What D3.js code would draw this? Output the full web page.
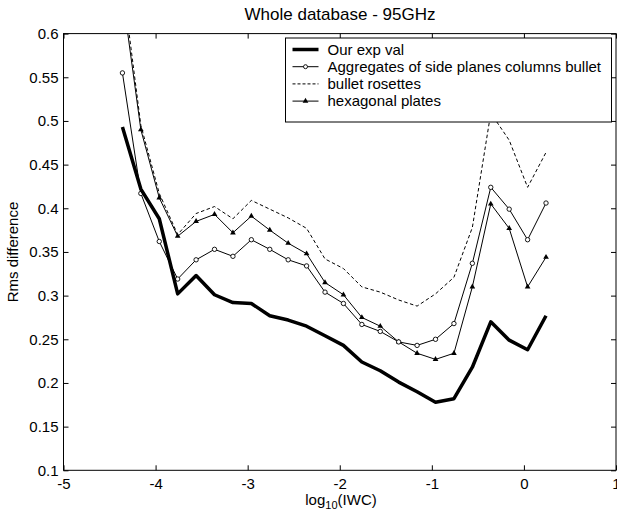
<!DOCTYPE html>
<html><head><meta charset="utf-8">
<script src="https://cdn.jsdelivr.net/npm/d3@7"></script>
<style>body{margin:0;background:#fff}svg{display:block}text{font-family:"Liberation Sans",Arial,sans-serif;fill:#000}</style>
</head><body><svg id="c" width="617" height="515"></svg>
<script>
const logIWC = [-4.36,-4.16,-3.96,-3.76,-3.56,-3.36,-3.16,-2.96,-2.76,-2.56,-2.36,-2.16,-1.96,-1.76,-1.56,-1.36,-1.16,-0.96,-0.76,-0.56,-0.36,-0.16,0.04,0.24];
const ourExpVal = [0.493,0.422,0.388,0.302,0.323,0.301,0.292,0.291,0.277,0.272,0.265,0.254,0.243,0.224,0.214,0.201,0.190,0.178,0.182,0.218,0.270,0.249,0.238,0.277];
const aggregates = [0.555,0.417,0.362,0.319,0.341,0.353,0.345,0.364,0.353,0.341,0.334,0.304,0.291,0.267,0.259,0.247,0.243,0.250,0.268,0.337,0.424,0.399,0.364,0.406];
const bulletRosettes = [0.660,0.495,0.417,0.370,0.394,0.402,0.388,0.409,0.399,0.389,0.377,0.342,0.331,0.310,0.304,0.295,0.288,0.302,0.321,0.378,0.509,0.478,0.424,0.464];
const hexPlates = [0.645,0.490,0.412,0.368,0.385,0.393,0.372,0.391,0.375,0.360,0.348,0.315,0.301,0.275,0.265,0.247,0.234,0.227,0.234,0.310,0.405,0.377,0.310,0.344];
const xTicks = [-5,-4,-3,-2,-1,0,1];
const yTicks = [0.1,0.15,0.2,0.25,0.3,0.35,0.4,0.45,0.5,0.55,0.6];
const seriesNames = ["Our exp val","Aggregates of side planes columns bullet","bullet rosettes","hexagonal plates"];
const titleText = "Whole database - 95GHz";

const svg = d3.select("#c");
const x = d3.scaleLinear().domain([-5,1]).range([63.5,616]);
const y = d3.scaleLinear().domain([0.1,0.6]).range([470.3,33.6]);
const [x0,x1] = x.range(), [yb,yt] = y.range();

svg.append("defs").append("clipPath").attr("id","clip")
  .append("rect").attr("x",x0).attr("y",yt).attr("width",x1-x0).attr("height",yb-yt);

svg.append("rect").attr("x",x0).attr("y",yt).attr("width",x1-x0).attr("height",yb-yt)
  .attr("fill","none").attr("stroke","#000").attr("stroke-width",1);

const tl = 5;
const gx = svg.append("g").attr("transform",`translate(0,${yb})`)
  .call(d3.axisBottom(x).tickValues(xTicks).tickSize(-tl).tickPadding(8).tickFormat(d=>String(d)));
const gxt = svg.append("g").attr("transform",`translate(0,${yt})`)
  .call(d3.axisTop(x).tickValues(xTicks).tickSize(-tl).tickFormat(""));
const gy = svg.append("g").attr("transform",`translate(${x0},0)`)
  .call(d3.axisLeft(y).tickValues(yTicks).tickSize(-tl).tickPadding(5).tickFormat(d=>String(+d.toFixed(2))));
const gyr = svg.append("g").attr("transform",`translate(${x1},0)`)
  .call(d3.axisRight(y).tickValues(yTicks).tickSize(-tl).tickFormat(""));
[gx,gxt,gy,gyr].forEach(g=>{
  g.select(".domain").remove();
  g.selectAll("line").attr("stroke","#000");
  g.selectAll("text").attr("font-size",15).attr("font-family","Liberation Sans, Arial, sans-serif").attr("fill","#000");
});

svg.append("text").attr("x",340).attr("y",20).attr("text-anchor","middle").attr("font-size",17).text(titleText);
const xl = svg.append("text").attr("x",341).attr("y",505).attr("text-anchor","middle").attr("font-size",15);
xl.append("tspan").text("log");
xl.append("tspan").attr("font-size",11).attr("dy",4).text("10");
xl.append("tspan").attr("dy",-4).text("(IWC)");
svg.append("text").attr("transform","translate(18,252) rotate(-90)").attr("text-anchor","middle").attr("font-size",15).text("Rms difference");

const plot = svg.append("g").attr("clip-path","url(#clip)");
const line = d3.line().x((d,i)=>x(logIWC[i])).y(d=>y(d));
const triSym = d3.symbol().type(d3.symbolTriangle).size(14);

function drawSeries(vals, opts){
  plot.append("path").datum(vals).attr("d",line).attr("fill","none").attr("stroke","#000")
    .attr("stroke-width",opts.w).attr("stroke-dasharray",opts.dash||null).attr("stroke-linejoin","round");
  if(opts.marker==="circle"){
    plot.selectAll(null).data(vals).join("circle").attr("cx",(d,i)=>x(logIWC[i])).attr("cy",d=>y(d))
      .attr("r",2.2).attr("fill","#fff").attr("stroke","#000").attr("stroke-width",0.9);
  } else if(opts.marker==="tri"){
    plot.selectAll(null).data(vals).join("path").attr("d",triSym)
      .attr("transform",(d,i)=>`translate(${x(logIWC[i])},${y(d)})`).attr("fill","#000");
  }
}
drawSeries(bulletRosettes,{w:1,dash:"3.5,2.5"});
drawSeries(hexPlates,{w:1,marker:"tri"});
drawSeries(aggregates,{w:1,marker:"circle"});
drawSeries(ourExpVal,{w:3.5});

const lg = svg.append("g");
lg.append("rect").attr("x",285.5).attr("y",38).attr("width",326).attr("height",84)
  .attr("fill","#fff").attr("stroke","#000").attr("stroke-width",1);
const legendStyles = [{w:3.5},{w:1,marker:"circle"},{w:1,dash:"3,2"},{w:1,marker:"tri"}];
seriesNames.forEach((name,i)=>{
  const cy = 49.5 + i*17.2;
  const st = legendStyles[i];
  lg.append("line").attr("x1",292.5).attr("x2",318.5).attr("y1",cy).attr("y2",cy)
    .attr("stroke","#000").attr("stroke-width",st.w).attr("stroke-dasharray",st.dash||null);
  if(st.marker==="circle") lg.append("circle").attr("cx",305.5).attr("cy",cy).attr("r",2).attr("fill","#fff").attr("stroke","#000").attr("stroke-width",0.9);
  if(st.marker==="tri") lg.append("path").attr("d",triSym).attr("transform",`translate(305.5,${cy})`).attr("fill","#000");
  lg.append("text").attr("x",327.5).attr("y",cy+5.3).attr("font-size",15).text(name);
});
</script></body></html>
